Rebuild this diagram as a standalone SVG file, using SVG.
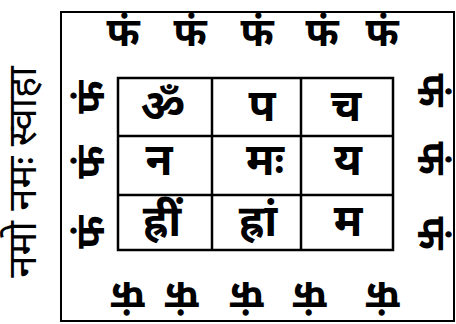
<svg xmlns="http://www.w3.org/2000/svg" width="456" height="324" viewBox="0 0 456 324">
<style>
.t{font-family:"Noto Sans Devanagari","Noto Sans","DejaVu Sans",sans-serif;font-weight:bold;fill:#000;text-anchor:middle}
.c{font-size:44px}
.s{font-size:40px}
.v{font-size:40px;font-weight:normal}
.ln{fill:none;stroke:#000;stroke-width:2}
.g{fill:none;stroke:#000;stroke-width:2.5}
</style>
<rect width="456" height="324" fill="#fff"/>
<g id="frame"><rect class="ln" x="61" y="12" width="393" height="309"/></g>
<g id="grid">
<rect class="g" x="118" y="78" width="275" height="172"/>
<line class="g" x1="212" y1="78" x2="212" y2="250"/>
<line class="g" x1="301" y1="78" x2="301" y2="250"/>
<line class="g" x1="118" y1="136" x2="393" y2="136"/>
<line class="g" x1="118" y1="195" x2="393" y2="195"/>
</g>
<g id="cells" class="t c">
<text x="163" y="121">ॐ</text>
<text x="262" y="121">प</text>
<text x="346" y="121">च</text>
<text x="159" y="175">न</text>
<text x="265" y="175">मः</text>
<text x="348" y="175">य</text>
<text x="162" y="236">ह्रीं</text>
<text x="258" y="236">ह्रां</text>
<text x="348" y="236">म</text>
</g>
<g id="top" class="t s">
<text x="123" y="46">फं</text>
<text x="190" y="46">फं</text>
<text x="257" y="46">फं</text>
<text x="322" y="46">फं</text>
<text x="382" y="46">फं</text>
</g>
<g id="bottom" class="t s">
<text transform="translate(128,282) rotate(180)">फं</text>
<text transform="translate(182,282) rotate(180)">फं</text>
<text transform="translate(247,282) rotate(180)">फं</text>
<text transform="translate(310,282) rotate(180)">फं</text>
<text transform="translate(383,282) rotate(180)">फं</text>
</g>
<g id="left" class="t s">
<text transform="translate(104,97) rotate(-90)">फं</text>
<text transform="translate(104,162) rotate(-90)">फं</text>
<text transform="translate(104,232) rotate(-90)">फं</text>
</g>
<g id="right" class="t s">
<text transform="translate(418,90) rotate(90)">फं</text>
<text transform="translate(418,158) rotate(90)">फं</text>
<text transform="translate(418,233) rotate(90)">फं</text>
</g>
<g id="mantra" class="t v">
<text transform="translate(36,172) rotate(-90)">नमो नमः स्वाहा</text>
</g>
</svg>
